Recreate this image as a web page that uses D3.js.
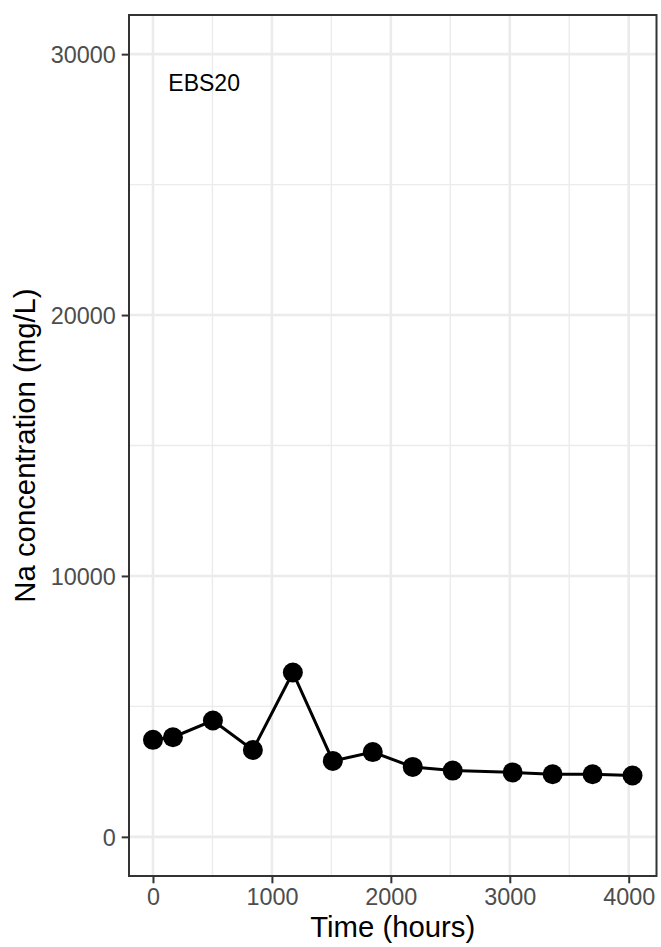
<!DOCTYPE html>
<html><head><meta charset="utf-8">
<script src="https://cdn.jsdelivr.net/npm/d3@7"></script>
<style>body{margin:0;background:#fff;} svg{display:block;font-family:"Liberation Sans",Arial,Helvetica,sans-serif;}</style>
</head><body>
<script>
const timeHours = [0, 168, 504, 840, 1176, 1512, 1848, 2184, 2520, 3024, 3360, 3696, 4032];
const naConc = [3720, 3820, 4460, 3330, 6300, 2910, 3250, 2680, 2540, 2470, 2400, 2400, 2350];
const xTicks = [0, 1000, 2000, 3000, 4000];
const xMinor = [500, 1500, 2500, 3500];
const yTicks = [0, 10000, 20000, 30000];
const yMinor = [5000, 15000, 25000];
const label = "EBS20";
const labelPos = [430, 28900];

const W = 661, H = 947;
const L = 129, R = 656.5, T = 15, B = 876;
const svg = d3.select("body").append("svg").attr("width", W).attr("height", H);

const x = d3.scaleLinear().domain([-201.6, 4233.6]).range([L, R]);
const y = d3.scaleLinear().domain([-1500, 31500]).range([B, T]);

const g = svg.append("g");
g.append("rect").attr("x", L).attr("y", T).attr("width", R - L).attr("height", B - T).attr("fill", "#fff");

// minor grid
g.selectAll(".xmin").data(xMinor).enter().append("line")
  .attr("x1", d => x(d)).attr("x2", d => x(d)).attr("y1", T).attr("y2", B)
  .attr("stroke", "#EBEBEB").attr("stroke-width", 1.4);
g.selectAll(".ymin").data(yMinor).enter().append("line")
  .attr("y1", d => y(d)).attr("y2", d => y(d)).attr("x1", L).attr("x2", R)
  .attr("stroke", "#EBEBEB").attr("stroke-width", 1.4);
// major grid
g.selectAll(".xmaj").data(xTicks).enter().append("line")
  .attr("x1", d => x(d)).attr("x2", d => x(d)).attr("y1", T).attr("y2", B)
  .attr("stroke", "#EBEBEB").attr("stroke-width", 2.6);
g.selectAll(".ymaj").data(yTicks).enter().append("line")
  .attr("y1", d => y(d)).attr("y2", d => y(d)).attr("x1", L).attr("x2", R)
  .attr("stroke", "#EBEBEB").attr("stroke-width", 2.6);

// line + points
const pts = timeHours.map((t, i) => [t, naConc[i]]);
g.append("path").datum(pts)
  .attr("d", d3.line().x(d => x(d[0])).y(d => y(d[1])))
  .attr("fill", "none").attr("stroke", "#000").attr("stroke-width", 3);
g.selectAll(".pt").data(pts).enter().append("circle")
  .attr("cx", d => x(d[0])).attr("cy", d => y(d[1])).attr("r", 10).attr("fill", "#000");

// label
g.append("text").attr("x", x(labelPos[0])).attr("y", y(labelPos[1]))
  .attr("text-anchor", "middle").attr("dominant-baseline", "central")
  .attr("font-size", 23).attr("fill", "#000").text(label);

// border
g.append("rect").attr("x", L).attr("y", T).attr("width", R - L).attr("height", B - T)
  .attr("fill", "none").attr("stroke", "#333333").attr("stroke-width", 2);

// axes
const xAxis = svg.append("g").attr("transform", `translate(0,${B})`)
  .call(d3.axisBottom(x).tickValues(xTicks).tickSize(7.3).tickPadding(5).tickFormat(d3.format("d")));
const yAxis = svg.append("g").attr("transform", `translate(${L},0)`)
  .call(d3.axisLeft(y).tickValues(yTicks).tickSize(7.3).tickPadding(6).tickFormat(d3.format("d")));
[xAxis, yAxis].forEach(a => {
  a.select(".domain").remove();
  a.selectAll(".tick line").attr("stroke", "#333333").attr("stroke-width", 2);
  a.selectAll(".tick text").attr("fill", "#4D4D4D").attr("font-size", 23.4)
    .attr("font-family", "Liberation Sans, Arial, sans-serif");
});
yAxis.selectAll(".tick text").attr("dy", "0.36em");

// titles
svg.append("text").attr("x", (L + R) / 2).attr("y", 937)
  .attr("text-anchor", "middle").attr("font-size", 29.3).attr("fill", "#000").text("Time (hours)");
svg.append("text").attr("transform", `translate(35,${(T + B) / 2}) rotate(-90)`)
  .attr("text-anchor", "middle").attr("font-size", 29.3).attr("fill", "#000").text("Na concentration (mg/L)");
</script>
</body></html>
